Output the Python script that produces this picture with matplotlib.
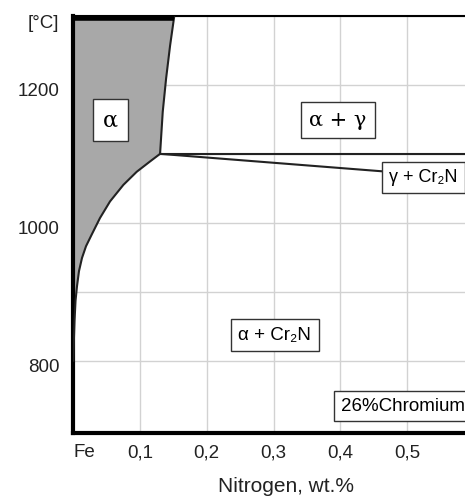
import matplotlib
matplotlib.use("Agg")
import matplotlib.pyplot as plt
import matplotlib.transforms as mtransforms

plt.rcParams['font.family'] = ['Liberation Sans', 'DejaVu Sans']

# phase boundaries (N wt.%, temperature °C)
alpha_gamma_n = [0.151, 0.145, 0.139, 0.134, 0.130]
alpha_gamma_t = [1298, 1257, 1209, 1161, 1100]

alpha_cr2n_n = [0.130, 0.115, 0.095, 0.075, 0.055, 0.040, 0.0276, 0.019, 0.013,
                0.0085, 0.0055, 0.0033, 0.0018, 0.0008, 0.0]
alpha_cr2n_t = [1100, 1089, 1074, 1055, 1031, 1007, 983, 966, 949,
                930, 908, 887, 858, 829, 800]

gamma_top_n = [0.130, 0.59]
gamma_top_t = [1100, 1100]
gamma_bot_n = [0.130, 0.59]
gamma_bot_t = [1100, 1065]

x_ticks = [0, 0.1, 0.2, 0.3, 0.4, 0.5]
x_labels = ['Fe', '0,1', '0,2', '0,3', '0,4', '0,5']
y_ticks = [800, 900, 1000, 1100, 1200, 1300]
y_labels = ['800', '', '1000', '', '1200', '[°C]']

fig = plt.figure(figsize=(4.65, 5.0), dpi=100)
ax = fig.add_axes([0.1577, 0.134, 0.8423, 0.834])
ax.set_xlim(0, 0.587)
ax.set_ylim(695, 1297)

# grey alpha field
poly_n = [0.0, 0.0] + alpha_gamma_n + alpha_cr2n_n[1:]
poly_t = [alpha_cr2n_t[-1], 1300] + alpha_gamma_t + alpha_cr2n_t[1:]
ax.fill(poly_n, poly_t, color='#a8a8a8', zorder=2, lw=0)

ax.plot(alpha_gamma_n, alpha_gamma_t, color='#222222', lw=1.5, zorder=3)
ax.plot(alpha_cr2n_n, alpha_cr2n_t, color='#222222', lw=1.5, zorder=3)
ax.plot(gamma_top_n, gamma_top_t, color='#222222', lw=1.5, zorder=3, clip_on=False)
ax.plot(gamma_bot_n, gamma_bot_t, color='#222222', lw=1.5, zorder=3, clip_on=False)

# grid
ax.set_xticks(x_ticks)
ax.set_xticklabels(x_labels)
ax.set_yticks(y_ticks)
ax.set_yticklabels(y_labels)
ax.grid(True, color='#d2d2d2', lw=1, zorder=0)
ax.tick_params(which='both', length=0, labelsize=13.5, colors='#222222')
ax.tick_params(axis='x', pad=8)
ax.tick_params(axis='y', pad=10)
ax.get_xticklabels()[0].set_horizontalalignment('left')
shift = mtransforms.ScaledTranslation(0, -5 / 100, fig.dpi_scale_trans)
for lbl in ax.get_yticklabels():
    lbl.set_transform(lbl.get_transform() + shift)

ax.spines['right'].set_visible(False)
ax.spines['left'].set_linewidth(3)
ax.spines['bottom'].set_linewidth(3)
ax.spines['top'].set_linewidth(1.5)
ax.plot([0, alpha_gamma_n[0]], [1297, 1297], color='black', lw=4, zorder=4, clip_on=False,
        solid_capstyle='butt')

box = dict(boxstyle='square,pad=0.4', fc='white', ec='#333333', lw=1)
ax.text(0.056, 1149, 'α', ha='center', va='center', fontsize=16, family='DejaVu Serif',
        bbox=dict(boxstyle='square,pad=0.45', fc='white', ec='#333333', lw=1), zorder=5)
ax.text(0.396, 1149, 'α + γ', ha='center', va='center', fontsize=15, family='DejaVu Serif',
        bbox=dict(boxstyle='square,pad=0.4', fc='white', ec='#333333', lw=1), zorder=5)
ax.text(0.473, 1066, 'γ + Cr₂N', ha='left', va='center', fontsize=13,
        bbox=box, zorder=5, clip_on=False)
ax.text(0.302, 837, 'α + Cr₂N', ha='center', va='center', fontsize=13.5,
        bbox=box, zorder=5)
ax.text(0.401, 734, '26%Chromium', ha='left', va='center', fontsize=13.5,
        bbox=dict(boxstyle='square,pad=0.35', fc='white', ec='#333333', lw=1),
        zorder=5, clip_on=False)

ax.set_xlabel('Nitrogen, wt.%', fontsize=15, color='#222222')
ax.xaxis.set_label_coords(0.543, -0.105)

fig.savefig('out.png', dpi=100)
